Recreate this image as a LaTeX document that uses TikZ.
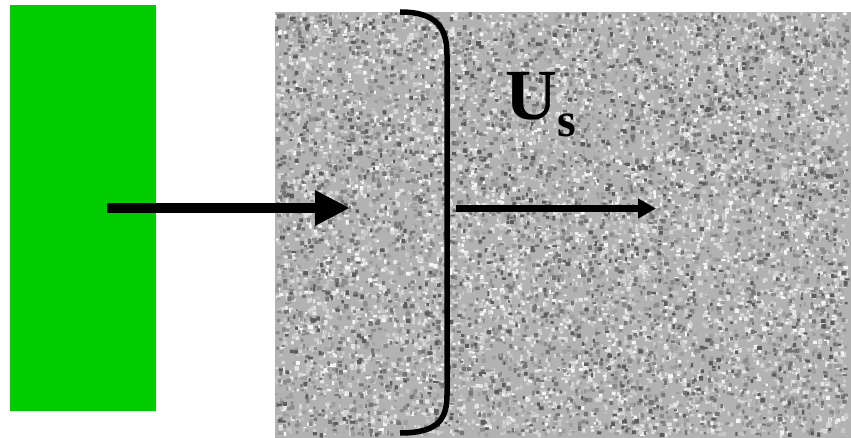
\documentclass[tikz,border=0pt]{standalone}
\usepackage{fontspec}
\setmainfont{Liberation Serif}
\usetikzlibrary{arrows.meta}
\definecolor{srcgreen}{HTML}{00CC00}
\tikzset{
  srcbox/.style={fill=srcgreen, draw=none, minimum width=146pt, minimum height=406pt, inner sep=0pt},
  fieldbox/.style={fill=black!30, draw=none, minimum width=576pt, minimum height=426pt, inner sep=0pt},
  bigarrow/.style={line width=10pt, -{Triangle[length=35pt,width=33pt]}},
  thinarrow/.style={line width=6.5pt, -{Triangle[length=18pt,width=19pt]}},
  bracketline/.style={line width=5.5pt, line cap=butt},
  labeltext/.style={inner sep=0pt, font=\bfseries\fontsize{72}{72}\selectfont}
}
\begin{document}
\begin{tikzpicture}[x=1pt,y=-1pt]
\useasboundingbox (0,0) rectangle (851,438);
\fill[white] (0,0) rectangle (851,438);
% noisy field
\node[fieldbox] (field) at (563,225) {};
\pgfmathsetseed{12345}
\foreach \g/\n in {4/1200,10/1600,16/1800,22/1800,38/1800,46/1600,54/1200,64/700} {
  \fill[black!\g] \foreach \i in {1,...,\n} {
    ({275+571*rnd},{12+421*rnd}) rectangle ++({1.8+3*rnd},{1.8+3*rnd})
  };
}
% green source
\node[srcbox] (src) at (83,208) {};
% bracket
\coordinate (bt) at (400,12);
\coordinate (bb) at (400,433);
\draw[bracketline] (bt) .. controls (437,12) and (447,28) .. (447,55) -- (447,395) .. controls (447,420) and (437,433) .. (bb);
% arrows
\coordinate (a1s) at (107,208);
\coordinate (a1e) at (350,208);
\draw[bigarrow] (a1s) -- (a1e);
\coordinate (a2s) at (456,208.5);
\coordinate (a2e) at (656,208.5);
\draw[thinarrow] (a2s) -- (a2e);
% label
\node[labeltext, anchor=base west] (lblU) at (505,120) {U\raisebox{-17pt}{\fontsize{48}{48}\selectfont s}};
\end{tikzpicture}
\end{document}
